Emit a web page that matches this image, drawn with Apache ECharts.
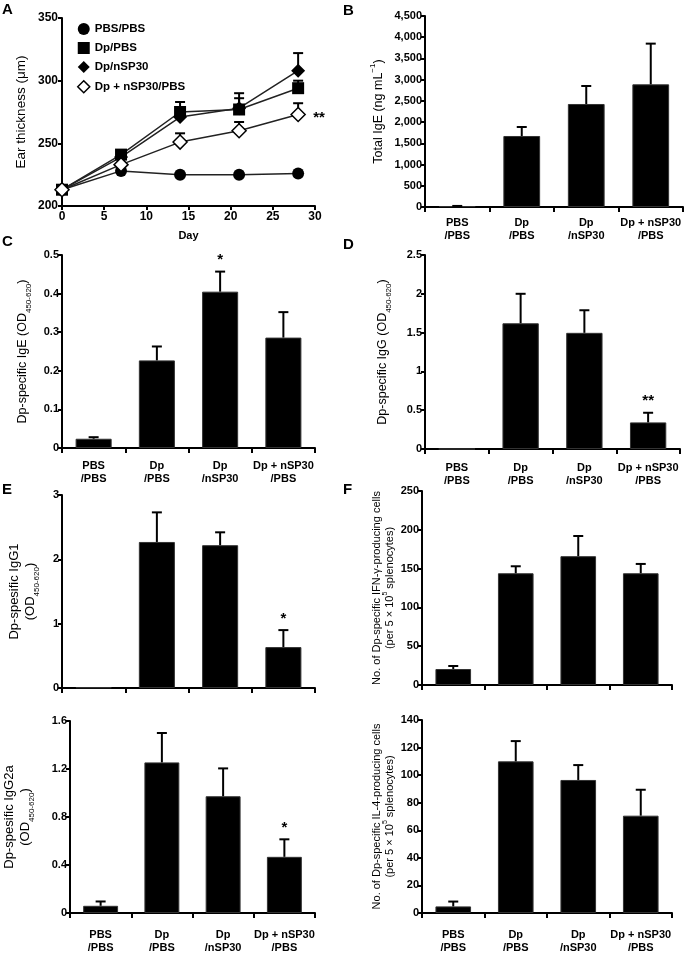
<!DOCTYPE html>
<html><head><meta charset="utf-8">
<script src="https://cdn.jsdelivr.net/npm/echarts@6/dist/echarts.min.js"></script>
<style>html,body{margin:0;padding:0;background:#fff}#c{width:685px;height:954px}</style>
</head><body><div id="c"></div>
<script>
const FONT = '"Liberation Sans", Arial, sans-serif';

// ---- Panel A: ear thickness over time ----
const days = [0, 7, 14, 21, 28];
const pbsPbs = [213, 228, 225, 225, 226];
const dpPbs = [213, 241, 275, 277, 294];
const dpPbsErr = [null, null, 283, 290, 300];
const dpNsp = [213, 239, 271, 278, 308];
const dpNspErr = [null, null, null, 286, 322];
const dpPlus = [213, 233, 251, 260, 273];
const dpPlusErr = [null, null, 258, 267, 282];
const dpPlusSig = ['', '', '', '', '**'];
const aTicksY = [200, 250, 300, 350];

// ---- Bar panels ----
const groups = ['PBS\n/PBS', 'Dp\n/PBS', 'Dp\n/nSP30', 'Dp + nSP30\n/PBS'];
const totalIgE = [20, 1673, 2427, 2890];
const totalIgEErr = [25, 1885, 2851, 3849];
const igE = [0.024, 0.227, 0.405, 0.286];
const igEErr = [0.028, 0.263, 0.457, 0.352];
const igESig = ['', '', '*', ''];
const igG = [0, 1.62, 1.497, 0.343];
const igGErr = [null, 2.0, 1.788, 0.467];
const igGSig = ['', '', '', '**'];
const igG1 = [0.01, 2.27, 2.22, 0.636];
const igG1Err = [null, 2.73, 2.42, 0.90];
const igG1Sig = ['', '', '', '*'];
const igG2a = [0.06, 1.255, 0.973, 0.468];
const igG2aErr = [0.096, 1.50, 1.205, 0.614];
const igG2aSig = ['', '', '', '*'];
const ifn = [20.6, 144, 166, 144];
const ifnErr = [24.5, 153, 192, 156];
const il4 = [4.8, 110, 96.5, 70.6];
const il4Err = [8.3, 124.7, 107.3, 89.4];

const chart = echarts.init(document.getElementById('c'), null, {renderer: 'canvas'});

const grids = [
  {left: 62, top: 18, width: 253, height: 188},   // A
  {left: 425, top: 16, width: 258, height: 191},  // B
  {left: 62, top: 255, width: 253, height: 193},  // C
  {left: 425, top: 255, width: 255, height: 194}, // D
  {left: 62, top: 495, width: 253, height: 193},  // E top
  {left: 422, top: 491, width: 250, height: 194}, // F top
  {left: 62, top: 721, width: 253, height: 195},  // E bottom
  {left: 422, top: 720, width: 250, height: 194}  // F bottom
];

const axisLine = {show: true, lineStyle: {color: '#000', width: 2}};
const tickLbl = {color: '#000', fontFamily: FONT, fontSize: 11, fontWeight: 'bold'};
function nameStyle(fs) {
  const lh = Math.round(fs * 1.2);
  return {color: '#000', fontFamily: FONT, fontSize: fs, lineHeight: lh,
    rich: {
      n: {fontFamily: FONT, fontSize: fs, color: '#000', lineHeight: lh},
      s: {fontFamily: FONT, fontSize: Math.round(fs * 0.62), color: '#000', verticalAlign: 'bottom', lineHeight: lh, padding: [0, 0, -3, 0]},
      p: {fontFamily: FONT, fontSize: Math.round(fs * 0.62), color: '#000', verticalAlign: 'top', lineHeight: lh, padding: [-2, 0, 0, 0]}
    }};
}

const xAxes = [], yAxes = [], series = [];

// A axes
xAxes.push({gridIndex: 0, type: 'value', min: 0, max: 30, interval: 5,
  axisLine, axisTick: {show: true, length: 4, lineStyle: {color: '#000', width: 2}},
  axisLabel: Object.assign({}, tickLbl, {fontSize: 12, margin: 5}), splitLine: {show: false},
  name: 'Day', nameLocation: 'middle', nameGap: 24,
  nameTextStyle: {color: '#000', fontFamily: FONT, fontSize: 11, fontWeight: 'bold'}});
yAxes.push({gridIndex: 0, type: 'value', min: aTicksY[0], max: aTicksY[aTicksY.length - 1], interval: 50,
  axisLine, axisTick: {show: true, length: 4, lineStyle: {color: '#000', width: 2}},
  axisLabel: Object.assign({}, tickLbl, {fontSize: 12, margin: 4}), splitLine: {show: false},
  name: '{n|Ear thickness (μm)}', nameLocation: 'middle', nameGap: 33,
  nameTextStyle: nameStyle(13.5)});

function pairs(xs, ys) { return xs.map((x, i) => [x, ys[i]]); }

function errSeries(gi, data, sigs, mode) {
  return {
    type: 'custom', xAxisIndex: gi, yAxisIndex: gi, z: mode === 'right' ? 1 : 5, silent: true,
    data: data,
    encode: {x: 0, y: 1},
    renderItem: function (params, api) {
      const x = api.value(0), v = api.value(1), e = api.value(2);
      const children = [];
      const p0 = api.coord([x, v]);
      let topY = p0[1];
      const cap = 5;
      if (e !== null && e !== undefined && !isNaN(e)) {
        const p1 = api.coord([x, e]);
        children.push({type: 'line', shape: {x1: p0[0], y1: p0[1], x2: p1[0], y2: p1[1]}, style: {stroke: '#000', lineWidth: 2}});
        children.push({type: 'line', shape: {x1: p1[0] - cap, y1: p1[1], x2: p1[0] + cap, y2: p1[1]}, style: {stroke: '#000', lineWidth: 2}});
        topY = p1[1];
      }
      const sig = sigs ? sigs[params.dataIndex] : '';
      if (sig) {
        if (mode === 'right') {
          children.push({type: 'text', style: {text: sig, x: p0[0] + 15, y: p0[1] + 3, align: 'left', verticalAlign: 'middle',
            fontFamily: FONT, fontSize: 15, fontWeight: 'bold', fill: '#000'}});
        } else {
          children.push({type: 'text', style: {text: sig, x: p0[0], y: topY - 4, align: 'center', verticalAlign: 'bottom',
            fontFamily: FONT, fontSize: 15, fontWeight: 'bold', fill: '#000'}});
        }
      }
      return {type: 'group', children: children};
    }
  };
}

const lineStyle = {color: '#222', width: 1.5};
series.push({name: 'PBS/PBS', type: 'line', xAxisIndex: 0, yAxisIndex: 0, data: pairs(days, pbsPbs),
  symbol: 'circle', symbolSize: 12, lineStyle, itemStyle: {color: '#000'}, z: 3});
series.push({name: 'Dp/PBS', type: 'line', xAxisIndex: 0, yAxisIndex: 0, data: pairs(days, dpPbs),
  symbol: 'rect', symbolSize: 12, lineStyle, itemStyle: {color: '#000'}, z: 3});
series.push({name: 'Dp/nSP30', type: 'line', xAxisIndex: 0, yAxisIndex: 0, data: pairs(days, dpNsp),
  symbol: 'diamond', symbolSize: 14, lineStyle, itemStyle: {color: '#000'}, z: 3});
series.push({name: 'Dp + nSP30/PBS', type: 'line', xAxisIndex: 0, yAxisIndex: 0, data: pairs(days, dpPlus),
  symbol: 'diamond', symbolSize: 14, lineStyle, itemStyle: {color: '#fff', borderColor: '#000', borderWidth: 1.5}, z: 3});
series.push(errSeries(0, days.map((d, i) => [d, dpPbs[i], dpPbsErr[i]]), null, 'right'));
series.push(errSeries(0, days.map((d, i) => [d, dpNsp[i], dpNspErr[i]]), null, 'right'));
series.push(errSeries(0, days.map((d, i) => [d, dpPlus[i], dpPlusErr[i]]), dpPlusSig, 'right'));

// bar panels
function barPanel(gi, vals, errs, sigs, min, max, interval, fmt, name, nameFs, nameGap, showCats, catMargin) {
  xAxes.push({gridIndex: gi, type: 'category', data: groups, boundaryGap: true,
    axisLine, axisTick: {show: true, length: 5, lineStyle: {color: '#000', width: 2}},
    axisLabel: Object.assign({show: showCats, interval: 0, margin: catMargin, lineHeight: 13}, tickLbl),
    splitLine: {show: false}});
  yAxes.push({gridIndex: gi, type: 'value', min, max, interval,
    axisLine, axisTick: {show: true, length: 4, lineStyle: {color: '#000', width: 2}},
    axisLabel: Object.assign({margin: 3, formatter: fmt}, tickLbl), splitLine: {show: false},
    name, nameLocation: 'middle', nameGap, nameTextStyle: nameStyle(nameFs)});
  series.push({type: 'bar', xAxisIndex: gi, yAxisIndex: gi, data: vals, barWidth: '57%',
    itemStyle: {color: '#000', borderColor: '#333', borderWidth: 1}, z: 2, silent: true});
  series.push(errSeries(gi, vals.map((v, i) => [i, v, errs[i]]), sigs, 'top'));
}

const comma = v => v.toLocaleString('en-US');
const plain = v => String(Math.round(v * 10) / 10);

barPanel(1, totalIgE, totalIgEErr, null, 0, 4500, 500, comma,
  '{n|Total IgE (ng mL}{p|−1}{n|)}', 12.5, 39, true, 9);
barPanel(2, igE, igEErr, igESig, 0, 0.5, 0.1, plain,
  '{n|Dp-specific IgE (OD}{s|450-620}{n|)}', 12.5, 32, true, 11);
barPanel(3, igG, igGErr, igGSig, 0, 2.5, 0.5, plain,
  '{n|Dp-specific IgG (OD}{s|450-620}{n|)}', 12.5, 35, true, 12);
barPanel(4, igG1, igG1Err, igG1Sig, 0, 3, 1, plain,
  '{n|Dp-spesific IgG1}\n{n|(OD}{s|450-620}{n|)}', 13, 24, false, 10);
barPanel(5, ifn, ifnErr, null, 0, 250, 50, plain,
  '{n|No. of Dp-specific IFN-γ-producing cells}\n{n|(per 5 × 10}{p|5}{n| splenocytes)}', 11, 25, false, 10);
barPanel(6, igG2a, igG2aErr, igG2aSig, 0, 1.6, 0.4, plain,
  '{n|Dp-spesific IgG2a}\n{n|(OD}{s|450-620}{n|)}', 13, 37, true, 15);
barPanel(7, il4, il4Err, null, 0, 140, 20, plain,
  '{n|No. of Dp-specific IL-4-producing cells}\n{n|(per 5 × 10}{p|5}{n| splenocytes)}', 11, 25, true, 15);

const letters = [['A', 2, 2], ['B', 343, 3], ['C', 2, 234], ['D', 343, 237], ['E', 2, 482], ['F', 343, 482]];

chart.setOption({
  backgroundColor: '#fff',
  animation: false,
  grid: grids,
  xAxis: xAxes,
  yAxis: yAxes,
  legend: {orient: 'vertical', left: 72, top: 18, itemWidth: 12, itemHeight: 12, itemGap: 7,
    textStyle: {color: '#000', fontFamily: FONT, fontSize: 11.5, fontWeight: 'bold'},
    data: [
      {name: 'PBS/PBS', icon: 'circle'},
      {name: 'Dp/PBS', icon: 'rect'},
      {name: 'Dp/nSP30', icon: 'diamond'},
      {name: 'Dp + nSP30/PBS', icon: 'diamond', itemStyle: {color: '#fff', borderColor: '#000', borderWidth: 1.5}}
    ]},
  graphic: letters.map(l => ({type: 'text', left: l[1], top: l[2],
    style: {text: l[0], fontFamily: FONT, fontSize: 15, fontWeight: 'bold', fill: '#000'}})),
  series
});
</script></body></html>
